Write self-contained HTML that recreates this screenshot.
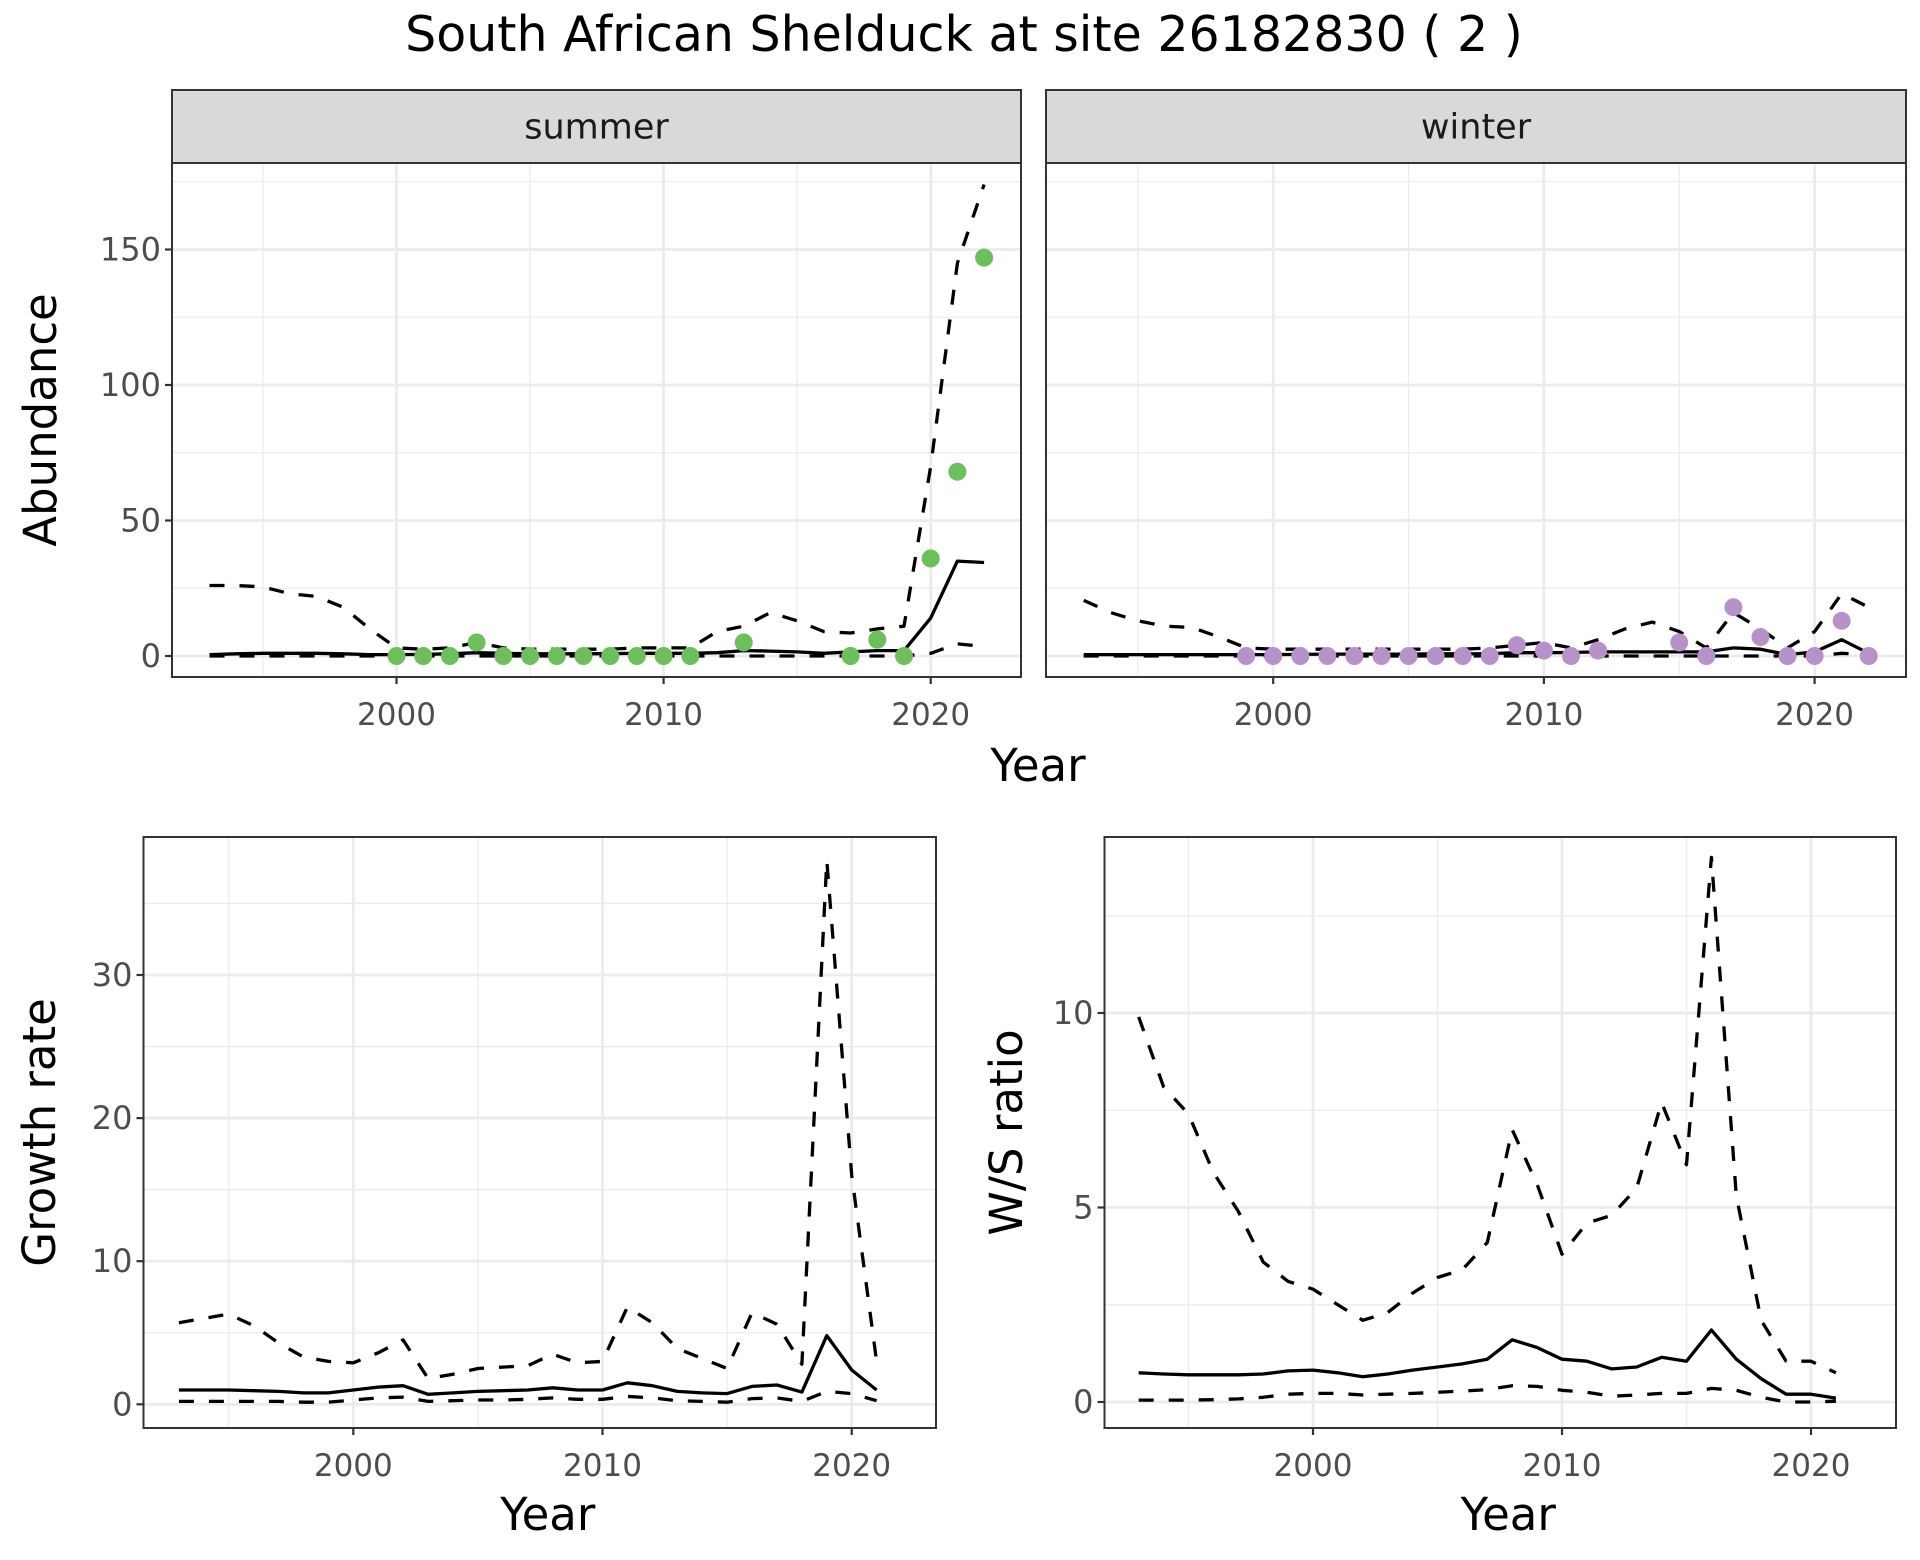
<!DOCTYPE html>
<html><head><meta charset="utf-8"><style>
html,body{margin:0;padding:0;background:#fff;}
svg{display:block;font-family:"DejaVu Sans","Liberation Sans",sans-serif;}
</style></head><body>
<svg id="chart" width="1920" height="1560" viewBox="0 0 1920 1560" xmlns="http://www.w3.org/2000/svg">
<text x="964" y="51" font-size="49" text-anchor="middle" fill="#000">South African Shelduck at site 26182830 ( 2 )</text>
</svg>
<script>
// ---- data ----
const yearsAll = [1993,1994,1995,1996,1997,1998,1999,2000,2001,2002,2003,2004,2005,2006,2007,2008,2009,2010,2011,2012,2013,2014,2015,2016,2017,2018,2019,2020,2021,2022];
const summerMean  = [0.5,0.8,1,1,1,0.8,0.5,0.5,0.6,0.8,1.2,1,0.8,0.8,0.8,0.9,1,1,1,1.2,2,1.8,1.5,1,1.5,2,2,14,35,34.5];
const summerUpper = [26,26,25.5,23,22,18,10,3,2.5,3,5,3,2.5,2.5,2.5,2.5,3,3,3,9,11,16,13,9,8.5,10,11,70,145,174];
const summerLower = [0,0,0,0,0,0,0,0,0,0,0,0,0,0,0,0,0,0,0,0,0,0,0,0,0,0,0,1,4.5,3.5];
const summerObsYears = [2000,2001,2002,2003,2004,2005,2006,2007,2008,2009,2010,2011,2013,2017,2018,2019,2020,2021,2022];
const summerObs      = [0,0,0,5,0,0,0,0,0,0,0,0,5,0,6,0,36,68,147];
const winterMean  = [0.5,0.5,0.5,0.5,0.5,0.5,0.5,0.5,0.6,0.7,0.7,0.7,0.7,0.8,0.8,0.9,1.2,1.2,1.3,1.5,1.5,1.5,1.5,1.5,3,2.5,0.5,1.5,6,1];
const winterUpper = [20.5,16,13,11,10.5,7,3,2.5,2.5,2.5,2.5,2.5,2.5,2.5,2.5,3,4,5,3,6,10,12.5,9,3,16,10,3,9,23,18];
const winterLower = [0,0,0,0,0,0,0,0,0,0,0,0,0,0,0,0,0,0,0,0,0,0,0,0,0,0,0,0,1,0.5];
const winterObsYears = [1999,2000,2001,2002,2003,2004,2005,2006,2007,2008,2009,2010,2011,2012,2015,2016,2017,2018,2019,2020,2021,2022];
const winterObs      = [0,0,0,0,0,0,0,0,0,0,4,2,0,2,5,0,18,7,0,0,13,0];
const yearsRatio = [1993,1994,1995,1996,1997,1998,1999,2000,2001,2002,2003,2004,2005,2006,2007,2008,2009,2010,2011,2012,2013,2014,2015,2016,2017,2018,2019,2020,2021];
const growthMean  = [1.0,1.0,1.0,0.95,0.9,0.8,0.8,1.0,1.2,1.3,0.7,0.8,0.9,0.95,1.0,1.15,1.0,1.0,1.5,1.3,0.9,0.8,0.75,1.25,1.35,0.85,4.8,2.4,1.0];
const growthUpper = [5.7,6.0,6.3,5.5,4.3,3.3,3.0,2.9,3.6,4.5,1.8,2.1,2.5,2.6,2.7,3.5,2.9,3.0,6.8,5.7,3.9,3.2,2.5,6.4,5.6,2.8,38,16,3.0];
const growthLower = [0.2,0.2,0.2,0.2,0.2,0.15,0.15,0.3,0.45,0.5,0.2,0.25,0.3,0.3,0.35,0.45,0.35,0.35,0.55,0.45,0.25,0.2,0.15,0.4,0.45,0.2,0.9,0.75,0.25];
const wsMean  = [0.75,0.72,0.7,0.7,0.7,0.72,0.8,0.82,0.75,0.65,0.72,0.82,0.9,0.98,1.1,1.6,1.4,1.1,1.05,0.85,0.9,1.15,1.05,1.85,1.1,0.6,0.2,0.2,0.1];
const wsUpper = [9.9,8.1,7.4,5.9,4.9,3.6,3.1,2.9,2.5,2.1,2.3,2.8,3.2,3.4,4.1,7.0,5.6,3.8,4.6,4.8,5.5,7.7,6.1,14.0,5.3,2.1,1.05,1.05,0.75];
const wsLower = [0.05,0.05,0.05,0.06,0.08,0.12,0.2,0.22,0.22,0.18,0.2,0.22,0.25,0.28,0.32,0.42,0.4,0.3,0.25,0.15,0.18,0.22,0.22,0.35,0.3,0.12,0.0,0.0,0.02];
const xTicks = [2000,2010,2020];
const xMinor = [1995,2005,2015];
const abundTicks = [0,50,100,150];
const abundMinor = [25,75,125,175];
const growthTicks = [0,10,20,30];
const growthMinor = [5,15,25,35];
const wsTicks = [0,5,10];
const wsMinor = [2.5,7.5,12.5];

const NS="http://www.w3.org/2000/svg";
const svg=document.getElementById('chart');
function mk(tag,attrs,parent){const e=document.createElementNS(NS,tag);for(const k in attrs)e.setAttribute(k,attrs[k]);(parent||svg).appendChild(e);return e;}

function panel(p){
  const g=mk('g',{});
  
  
  const X=v=>p.x0+(v-p.xr0)*p.xs, Y=v=>p.y0-(v)*p.ys;
  mk('rect',{x:p.l,y:p.t,width:p.r-p.l,height:p.b-p.t,fill:'#fff'},g);
  p.yMinor.forEach(v=>{const y=Y(v); if(y>p.t&&y<p.b) mk('line',{x1:p.l,x2:p.r,y1:y,y2:y,stroke:'#EBEBEB','stroke-width':1.3},g);});
  xMinor.forEach(v=>mk('line',{x1:X(v),x2:X(v),y1:p.t,y2:p.b,stroke:'#EBEBEB','stroke-width':1.3},g));
  p.yTicks.forEach(v=>mk('line',{x1:p.l,x2:p.r,y1:Y(v),y2:Y(v),stroke:'#EBEBEB','stroke-width':2.7},g));
  xTicks.forEach(v=>mk('line',{x1:X(v),x2:X(v),y1:p.t,y2:p.b,stroke:'#EBEBEB','stroke-width':2.7},g));
  const line=(xs,vs,dash,nm)=>{
    const d=vs.map((v,i)=>(i?'L':'M')+X(xs[i]).toFixed(1)+','+Y(v).toFixed(1)).join('');
    const pth=mk('path',{d:d,fill:'none',stroke:'#000','stroke-width':3.3,'stroke-linejoin':'round'},g);
    if(dash) pth.setAttribute('stroke-dasharray','15 15');
    
    
  };
  line(p.xs_,p.upper,true,'upper-ci-line');
  line(p.xs_,p.lower,true,'lower-ci-line');
  line(p.xs_,p.mean,false,'mean-line');
  if(p.obs){p.obs.forEach((v,i)=>{
    const c=mk('circle',{cx:X(p.obsYears[i]),cy:Y(v),r:9,fill:p.color},g);
    
    
  });}
  mk('rect',{x:p.l,y:p.t,width:p.r-p.l,height:p.b-p.t,fill:'none',stroke:'#333','stroke-width':2},g);
  p.yTicks.forEach(v=>{
    if(p.showY){
      mk('line',{x1:p.l-7,x2:p.l,y1:Y(v),y2:Y(v),stroke:'#333','stroke-width':2.2},g);
      const t=mk('text',{x:p.l-11,y:Y(v)+11,'font-size':32,'text-anchor':'end',fill:'#4D4D4D'},g);
      t.textContent=v;
      
      
    }
  });
  xTicks.forEach(v=>{
    mk('line',{x1:X(v),x2:X(v),y1:p.b,y2:p.b+7,stroke:'#333','stroke-width':2.2},g);
    const t=mk('text',{x:X(v),y:p.b+48,'font-size':31,'text-anchor':'middle',fill:'#4D4D4D'},g);
    t.textContent=v;
    
    
  });
  if(p.strip){
    const s=mk('rect',{x:p.l,y:p.st,width:p.r-p.l,height:p.t-p.st,fill:'#D9D9D9',stroke:'#333','stroke-width':2},g);
    
    
    const t=mk('text',{x:(p.l+p.r)/2,y:(p.st+p.t)/2+12,'font-size':35,'text-anchor':'middle',fill:'#1A1A1A'},g);
    t.textContent=p.strip;
    
    
  }
  if(p.ytitle){
    const t=mk('text',{x:0,y:0,'font-size':45,'text-anchor':'middle',fill:'#000',transform:`translate(${p.ytx},${(p.t+p.b)/2}) rotate(-90)`},g);
    t.textContent=p.ytitle;
    
    
  }
  if(p.xtitle){
    const t=mk('text',{x:(p.l+p.r)/2+8,y:p.b+102,'font-size':45,'text-anchor':'middle',fill:'#000'},g);
    t.textContent='Year';
    
    
  }
}
panel({name:'summer-panel',l:172,r:1021,t:163,b:677,st:90,strip:'summer',x0:396.5,xr0:2000,xs:26.71,y0:656,ys:2.71,
  yTicks:abundTicks,yMinor:abundMinor,showY:true,xs_:yearsAll,mean:summerMean,upper:summerUpper,lower:summerLower,
  obs:summerObs,obsYears:summerObsYears,color:'#6CBF5A',ytitle:'Abundance',ytx:56});
panel({name:'winter-panel',l:1046,r:1906,t:163,b:677,st:90,strip:'winter',x0:1273.2,xr0:2000,xs:27.07,y0:656,ys:2.71,
  yTicks:abundTicks,yMinor:abundMinor,showY:false,xs_:yearsAll,mean:winterMean,upper:winterUpper,lower:winterLower,
  obs:winterObs,obsYears:winterObsYears,color:'#B792CA'});
const yt=mk('text',{x:1038,y:781,'font-size':45,'text-anchor':'middle',fill:'#000'});
yt.textContent='Year';


panel({name:'growth-rate-panel',l:143.5,r:936,t:837,b:1428,x0:353.3,xr0:2000,xs:24.92,y0:1404.3,ys:14.31,
  yTicks:growthTicks,yMinor:growthMinor,showY:true,xs_:yearsRatio,mean:growthMean,upper:growthUpper,lower:growthLower,
  ytitle:'Growth rate',ytx:55,xtitle:true});
panel({name:'ws-ratio-panel',l:1104.5,r:1896,t:837,b:1428,x0:1313,xr0:2000,xs:24.9,y0:1402,ys:38.9,
  yTicks:wsTicks,yMinor:wsMinor,showY:true,xs_:yearsRatio,mean:wsMean,upper:wsUpper,lower:wsLower,
  ytitle:'W/S ratio',ytx:1022,xtitle:true});
</script>
</body></html>
